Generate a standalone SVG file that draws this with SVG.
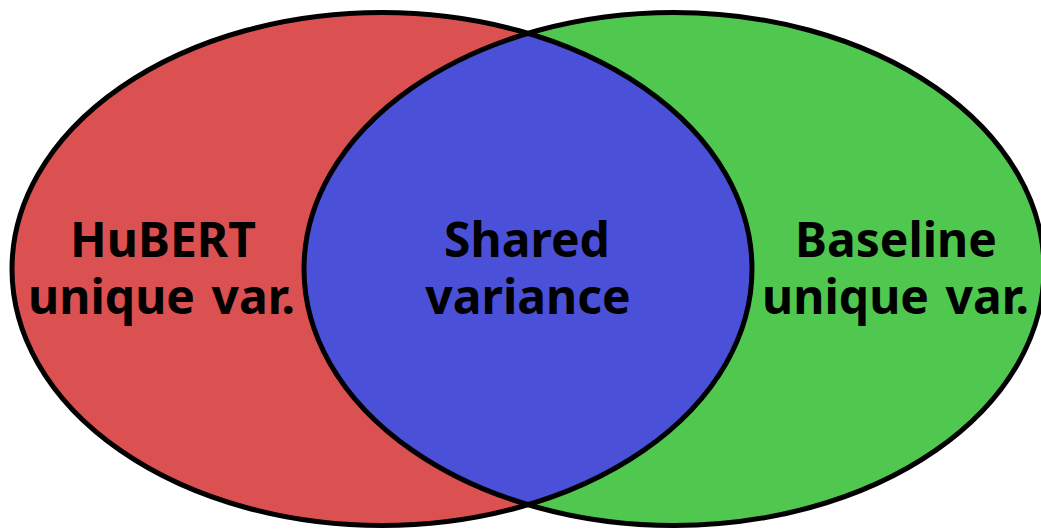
<svg xmlns="http://www.w3.org/2000/svg" width="1041" height="529" viewBox="0 0 1041 529">
<style>
.lbl{font-family:"Noto Sans","Open Sans","DejaVu Sans",sans-serif;font-weight:bold;font-size:48px;fill:#000;text-anchor:middle}
.ws{word-spacing:4px}
.edge{fill:none;stroke:#000;stroke-width:5}
</style>
<defs>
<clipPath id="clipL"><ellipse cx="382" cy="269" rx="370" ry="256.5"/></clipPath>
</defs>
<g id="hubert">
<ellipse cx="382" cy="269" rx="370" ry="256.5" fill="#DB5151"/>
</g>
<g id="baseline">
<ellipse cx="674" cy="269" rx="370" ry="256.5" fill="#50C850"/>
</g>
<g id="shared">
<ellipse cx="674" cy="269" rx="370" ry="256.5" fill="#4B50D9" clip-path="url(#clipL)"/>
</g>
<g id="outlines">
<ellipse class="edge" cx="382" cy="269" rx="370" ry="256.5"/>
<ellipse class="edge" cx="674" cy="269" rx="370" ry="256.5"/>
</g>
<g id="labels">
<text class="lbl" x="163" y="257">HuBERT</text>
<text class="lbl ws" x="161.5" y="314">unique var.</text>
<text class="lbl" x="527" y="257">Shared</text>
<text class="lbl" x="528" y="314">variance</text>
<text class="lbl" x="896" y="257">Baseline</text>
<text class="lbl ws" x="895.5" y="314">unique var.</text>
</g>
</svg>
